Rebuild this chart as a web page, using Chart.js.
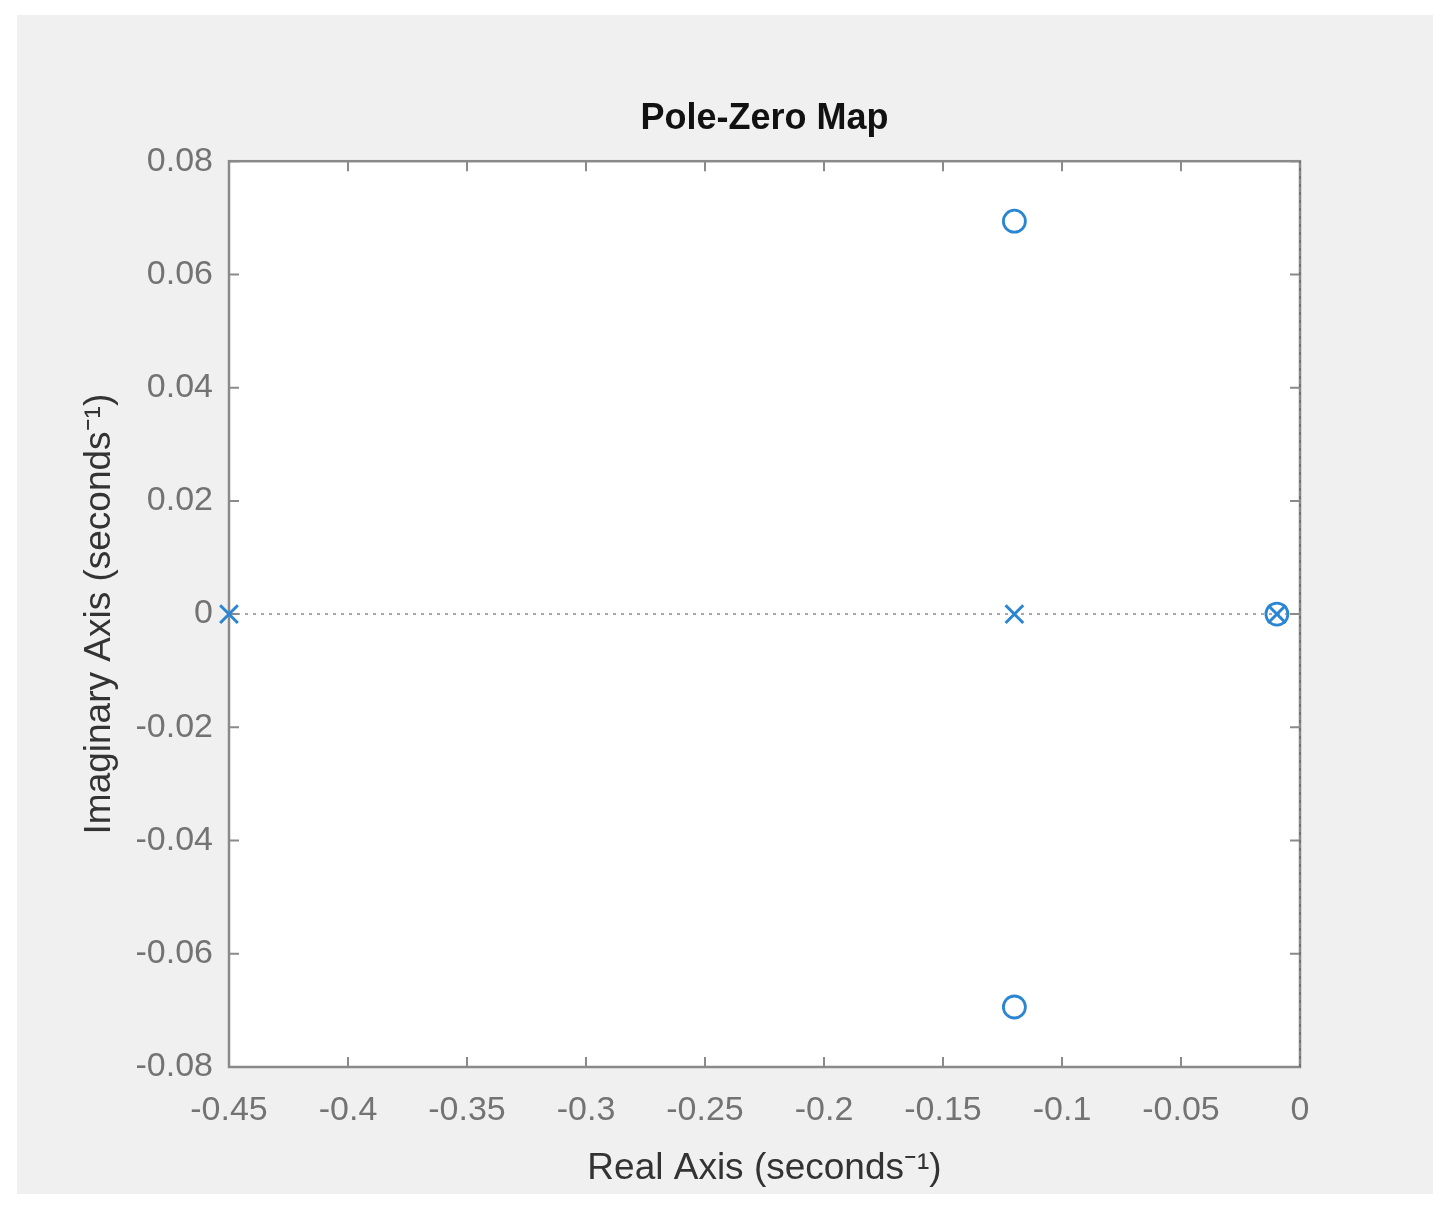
<!DOCTYPE html>
<html lang="en">
  <head>
    <meta charset="UTF-8" />
    <title>Pole-Zero Map</title>
    <script src="https://cdn.jsdelivr.net/npm/chart.js@4.4.1/dist/chart.umd.min.js"></script>
    <style>
      html, body { margin: 0; padding: 0; background: #ffffff; }
      #wrap { width: 1445px; height: 1211px; position: relative; }
    </style>
  </head>
  <body>
    <div id="wrap"><canvas id="pz-chart"></canvas></div>
    <script>
      // poles (x) and zeros (o), real / imaginary parts
      const poleReal = [-0.45, -0.12, -0.0097];
      const poleImag = [0, 0, 0];
      const zeroReal = [-0.12, -0.12, -0.0097];
      const zeroImag = [0.0694, -0.0694, 0];

      const xLimits = [-0.45, 0];
      const yLimits = [-0.08, 0.08];
      const xTicks = [-0.45, -0.4, -0.35, -0.3, -0.25, -0.2, -0.15, -0.1, -0.05, 0];
      const xTickLabels = ["-0.45", "-0.4", "-0.35", "-0.3", "-0.25", "-0.2", "-0.15", "-0.1", "-0.05", "0"];
      const yTicks = [-0.08, -0.06, -0.04, -0.02, 0, 0.02, 0.04, 0.06, 0.08];
      const yTickLabels = ["-0.08", "-0.06", "-0.04", "-0.02", "0", "0.02", "0.04", "0.06", "0.08"];

      const blue = "#2a86d3";
      const axisGrey = "#8a8a8a";
      const fontFamily = "'Liberation Sans', Arial, Helvetica, sans-serif";

      const toPoints = (xs, ys) => xs.map((x, i) => ({ x: x, y: ys[i] }));

      // grey figure background, white axes, box with inward ticks
      const figurePlugin = {
        id: "figure",
        beforeDraw(chart) {
          const { ctx, chartArea: a } = chart;
          ctx.save();
          ctx.fillStyle = "#f0f0f0";
          ctx.fillRect(17, 15, 1416, 1179);
          ctx.fillStyle = "#ffffff";
          ctx.fillRect(a.left, a.top, a.right - a.left, a.bottom - a.top);
          ctx.restore();
        },
        beforeDatasetsDraw(chart) {
          const { ctx, chartArea: a, scales } = chart;
          const tick = 10;
          ctx.save();
          ctx.strokeStyle = axisGrey;
          ctx.lineWidth = 2;
          ctx.beginPath();
          scales.x.ticks.forEach((t) => {
            const px = scales.x.getPixelForValue(t.value);
            ctx.moveTo(px, a.bottom);
            ctx.lineTo(px, a.bottom - tick);
            ctx.moveTo(px, a.top);
            ctx.lineTo(px, a.top + tick);
          });
          scales.y.ticks.forEach((t) => {
            const py = scales.y.getPixelForValue(t.value);
            ctx.moveTo(a.left, py);
            ctx.lineTo(a.left + tick, py);
            ctx.moveTo(a.right, py);
            ctx.lineTo(a.right - tick, py);
          });
          ctx.stroke();
          ctx.lineWidth = 2.5;
          ctx.strokeRect(a.left, a.top, a.right - a.left, a.bottom - a.top);
          ctx.restore();
        },
      };

      const ctx = document.getElementById("pz-chart").getContext("2d");
      const pzChart = new Chart(ctx, {
        type: "scatter",
        data: {
          datasets: [
            {
              label: "Poles",
              data: toPoints(poleReal, poleImag),
              pointStyle: "crossRot",
              pointRadius: 12.5,
              borderColor: blue,
              borderWidth: 3,
              order: 1,
              clip: 15,
            },
            {
              label: "Zeros",
              data: toPoints(zeroReal, zeroImag),
              pointStyle: "circle",
              pointRadius: 11,
              borderColor: blue,
              backgroundColor: "rgba(0,0,0,0)",
              borderWidth: 2.8,
              order: 1,
              clip: 15,
            },
            {
              label: "Real axis",
              data: toPoints(xLimits, [0, 0]),
              showLine: true,
              pointRadius: 0,
              borderColor: "#8c8c8c",
              borderWidth: 1.5,
              borderDash: [3, 5],
              order: 2,
              clip: 5,
            },
            {
              label: "Imaginary axis",
              data: toPoints([0, 0], yLimits),
              showLine: true,
              pointRadius: 0,
              borderColor: "#6a6a6a",
              borderWidth: 1.5,
              borderDash: [3, 5],
              order: 2,
              clip: 5,
            },
          ],
        },
        options: {
          responsive: true,
          maintainAspectRatio: false,
          animation: false,
          layout: { padding: { left: 0, right: 145, top: 0, bottom: 0 } },
          plugins: {
            legend: { display: false },
            tooltip: { enabled: false },
            title: {
              display: true,
              fullSize: false,
              text: "Pole-Zero Map",
              color: "#111111",
              font: { family: fontFamily, size: 36, weight: "bold", lineHeight: 1.2 },
              padding: { top: 97, bottom: 21 },
            },
          },
          scales: {
            x: {
              type: "linear",
              min: xLimits[0],
              max: xLimits[1],
              afterBuildTicks: (scale) => {
                scale.ticks = xTicks.map((v) => ({ value: v }));
              },
              afterFit: (scale) => {
                scale.height = 144;
              },
              grid: { display: false, drawTicks: false },
              border: { display: false },
              ticks: {
                padding: 23,
                color: "#737373",
                font: { family: fontFamily, size: 34 },
                maxRotation: 0,
                callback: (value, index) => xTickLabels[index],
              },
              title: {
                display: true,
                text: "Real Axis (seconds\u207B\u00B9)",
                color: "#333333",
                font: { family: fontFamily, size: 37, lineHeight: 1.2 },
                padding: { top: 0, bottom: 20 },
              },
            },
            y: {
              type: "linear",
              min: yLimits[0],
              max: yLimits[1],
              afterBuildTicks: (scale) => {
                scale.ticks = yTicks.map((v) => ({ value: v }));
              },
              afterFit: (scale) => {
                scale.width = 229;
              },
              grid: { display: false, drawTicks: false },
              border: { display: false },
              ticks: {
                padding: 16,
                color: "#737373",
                font: { family: fontFamily, size: 34 },
                callback: (value, index) => yTickLabels[index],
              },
              title: {
                display: true,
                text: "Imaginary Axis (seconds\u207B\u00B9)",
                color: "#333333",
                font: { family: fontFamily, size: 37, lineHeight: 1.2 },
                padding: { top: 78, bottom: 0 },
              },
            },
          },
        },
        plugins: [figurePlugin],
      });
    </script>
  </body>
</html>
